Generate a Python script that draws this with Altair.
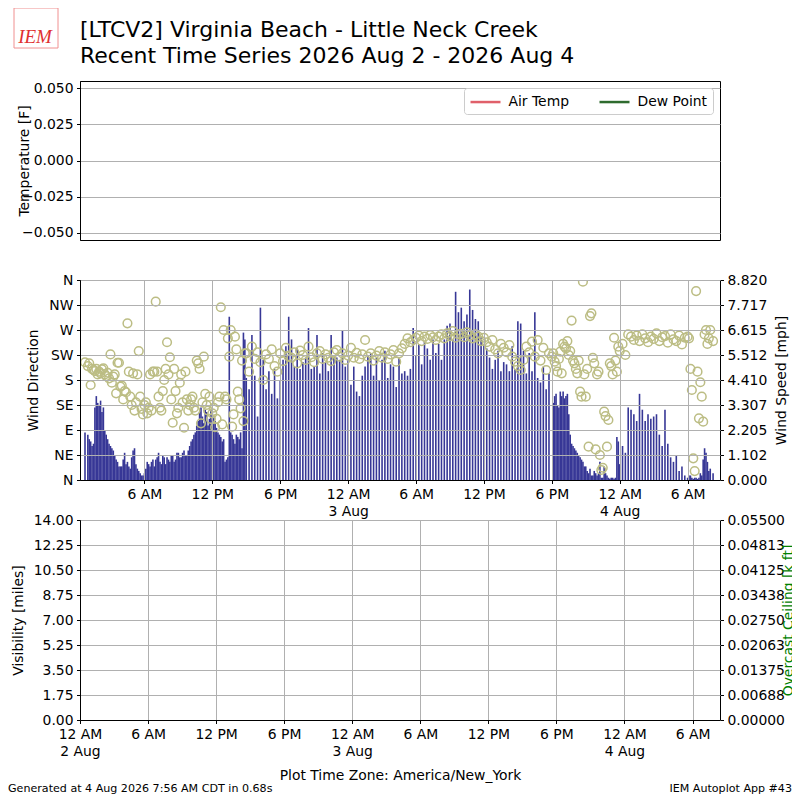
import json
import numpy as np
import pandas as pd
import altair as alt

# ---------------- text ----------------
title_lines = ["[LTCV2] Virginia Beach - Little Neck Creek",
               "Recent Time Series 2026 Aug 2 - 2026 Aug 4"]
footer_left = "Generated at 4 Aug 2026 7:56 AM CDT in 0.68s"
footer_right = "IEM Autoplot App #43"
x_title = "Plot Time Zone: America/New_York"
logo_text = "IEM"

# ---------------- data ----------------
obs_start = "2026-08-02 00:45"   # first observation, 15 minute steps
day_start = "2026-08-02 00:00"

speed_mph = [
    2.1,                      # 00:45 2 Aug
    2.0, 1.7, 1.6, 3.7,       # 01
    3.3, 3.0, 2.2, 1.8,       # 02
    1.5, 1.3, 0.9, 0.6,       # 03
    0.6, 1.2, 0.8, 0.5,       # 04
    1.3, 0.7, 0.4, 0.2,       # 05
    0.3, 0.8, 0.6, 0.9,       # 06
    0.9, 1.2, 0.7, 1.0,       # 07
    1.0, 0.8, 1.1, 0.9,       # 08
    1.2, 1.0, 1.3, 1.1,       # 09
    1.5, 1.8, 2.1, 2.6,       # 10
    3.2, 2.5, 3.0, 2.7,       # 11
    3.0, 2.6, 2.1, 1.9,       # 12
    1.8, 0.9, 7.2, 2.0,       # 13
    1.6, 1.9, 2.1, 6.5,       # 14
    4.5, 4.0, 6.4, 4.6,       # 15
    2.8, 7.6, 5.3, 4.0,       # 16
    4.8, 3.8, 4.9, 3.6,       # 17
    4.4, 5.3, 5.9, 7.2,       # 18
    6.2, 5.0, 5.8, 4.9,       # 19
    5.2, 5.4, 6.7, 4.9,       # 20
    5.0, 6.4, 4.7, 5.6,       # 21
    5.2, 4.8, 6.4, 5.5,       # 22
    5.4, 5.3, 6.6, 5.0,       # 23
    5.3, 4.2, 5.0, 3.9,       # 00 3 Aug
    3.7, 4.6, 5.0, 5.5,       # 01
    5.6, 4.6, 5.4, 4.4,       # 02
    5.3, 5.7, 4.5, 5.1,       # 03
    5.0, 4.1, 5.4, 4.7,       # 04
    4.8, 4.6, 4.9, 6.7,       # 05
    5.5, 6.0, 5.1, 6.1,       # 06
    5.8, 5.3, 6.2, 5.6,       # 07
    6.0, 5.3, 6.2, 6.8,       # 08
    6.9, 6.2, 8.3, 7.4,       # 09
    7.6, 7.0, 7.3, 8.4,       # 10
    7.5, 7.1, 7.0, 6.3,       # 11
    6.0, 5.8, 5.4, 4.9,       # 12
    5.3, 5.7, 4.8, 5.2,       # 13
    5.1, 4.8, 5.9, 4.9,       # 14
    7.0, 6.9, 5.7, 4.7,       # 15
    5.6, 4.8, 7.4, 4.5,       # 16
    4.3, 5.0, 4.0, 4.7,       # 17
    None, 3.7, 3.3, 3.9,      # 18
    3.9, 3.7, 2.9, 1.6,       # 19
    1.4, 1.2, 1.0, 0.8,       # 20
    0.6, 0.3, 0.2, 0.4,       # 21
    0.2, 0.8, 0.1, 0.3,       # 22
    0.1, 0.1, 0.05, 1.9,      # 23
    0.7, 1.5, 1.2, 3.2,       # 00 4 Aug
    3.1, 2.9, 2.6, 3.8,       # 01
    3.1, 2.6, 2.9, 2.7,       # 02
    2.8, 2.9, 2.0, 1.5,       # 03
    3.1, 1.6, 1.0, 0.8,       # 04
    1.1, 0.4, 0.6, 0.2,       # 05
    0.1, 0.2, 0.05, 0.1,      # 06
    0.1, 0.2, 1.4, 0.8,       # 07
    0.5, 0.3,                 # 08
]

drct_deg = [
    212,                      # 00:45 2 Aug
    205, 171, 198, 200,       # 01
    195, 199, 190, 193,       # 02
    226, 186, 156, 211,       # 03
    170, 160, 282, 150,       # 04
    192, 140, 232, 128,       # 05
    135, 120, 190, 195,       # 06
    321, 150, 125, 180,       # 07
    248, 221, 103, 160,       # 08
    130, 190, 94, 145,        # 09
    135, 150, 125, 210,       # 10
    102, 222, 135, 150,       # 11
    120, 95, 140, 311,        # 12
    270, 145, 222, 96,        # 13
    258, 159, 129, 106,       # 14
    228, 195, 240, 218,       # 15
    230, 212, 180, 226,       # 16
    218, 235, 205, 195,       # 17
    228, 214, 238, 222,       # 18
    220, 230, 210, 233,       # 19
    225, 216, 240, 221,       # 20
    212, 228, 232, 218,       # 21
    226, 220, 214, 230,       # 22
    234, 222, 228, 216,       # 23
    224, 238, 220, 229,       # 00 3 Aug
    218, 226, 252, 222,       # 01
    228, 215, 224, 232,       # 02
    220, 230, 218, 226,       # 03
    234, 213, 228, 237,       # 04
    245, 255, 248, 252,       # 05
    256, 260, 250, 258,       # 06
    254, 261, 257, 252,       # 07
    258, 262, 255, 264,       # 08
    259, 268, 256, 262,       # 09
    263, 257, 266, 260,       # 10
    255, 262, 258, 250,       # 11
    256, 248, 240, 252,       # 12
    235, 228, 245, 238,       # 13
    230, 243, 222, 213,       # 14
    205, 198, 216, 240,       # 15
    230, 249, 222, 252,       # 16
    215, 238, 198, 228,       # 17
    222, 213, 195, 231,       # 18
    245, 237, 225, 287,       # 19
    210, 192, 159, 357,       # 20
    150, 60, 300, 210,        # 21
    190, 45, 22, 115,         # 22
    108, 205, 256, 195,       # 23
    232, 245, 225, 262,       # 00 4 Aug
    258, 252, 260, 250,       # 01
    262, 255, 248, 258,       # 02
    254, 264, 250, 257,       # 03
    259, 247, 262, 253,       # 04
    250, 260, 244, 256,       # 05
    258, 200, 39, 340,        # 06
    111, 150, 262, 245,       # 07
    270, 250,                 # 08
]

# extra reports in the gusty / variable hours, at :07, :22, :37 and :52
extra_hours = [1, 2, 3, 4, 5, 6, 7, 8, 9, 10, 11, 12, 13, 14,   # 2 Aug
               42, 43, 44, 45, 46, 47,                          # 3 Aug 18-23
               54, 55]                                          # 4 Aug 06-07
extra_speed_mph = [
    1.8, 1.5, 3.2, 3.4,   3.5, 3.2, 2.0, 1.6,   1.4, 1.1, 0.8, 0.6,
    0.9, 0.7, 0.6, 1.0,   1.4, 0.5, 0.3, 0.2,   0.5, 0.7, 0.8, 0.6,
    1.0, 0.8, 1.1, 0.7,   0.9, 1.1, 0.8, 1.2,   1.0, 1.2, 1.1, 1.3,
    1.7, 2.0, 2.4, 3.0,   2.8, 3.1, 2.4, 3.1,   2.8, 2.3, 2.0, 1.7,
    0.8, 1.0, 2.1, 1.8,   2.0, 1.8, 1.4, 6.2,
    3.4, 3.8, 3.2, 3.7,   3.6, 3.8, 2.0, 1.5,   1.3, 1.1, 0.9, 0.6,
    0.4, 0.5, 0.2, 0.3,   0.3, 0.1, 0.6, 0.2,   0.05, 0.1, 0.1, 1.7,
    0.2, 0.1, 0.1, 0.05,  0.3, 0.9, 1.2, 0.4,
]
extra_drct_deg = [
    210, 200, 196, 190,   192, 201, 187, 183,   175, 190, 211, 168,
    145, 158, 195, 135,   125, 190, 150, 118,   140, 130, 125, 195,
    195, 130, 160, 200,   190, 145, 200, 120,   175, 140, 195, 125,
    145, 130, 215, 200,   140, 155, 125, 110,   130, 110, 150, 100,
    150, 255, 270, 118,   235, 145, 215, 228,
    228, 205, 218, 192,   240, 250, 232, 215,   200, 215, 150, 190,
    200, 295, 220, 55,    195, 18, 123, 60,     210, 190, 215, 240,
    255, 162, 16, 195,    176, 105, 270, 255,
]

temp_series = ["Air Temp", "Dew Point"]
temp_colors = ["#e0606a", "#2e6b2e"]

x_tick_hours = [0, 6, 12, 18, 24, 30, 36, 42, 48, 54]
x_tick_labels = [["12 AM", "2 Aug"], "6 AM", "12 PM", "6 PM",
                 ["12 AM", "3 Aug"], "6 AM", "12 PM", "6 PM",
                 ["12 AM", "4 Aug"], "6 AM"]
dir_labels = ["N", "NE", "E", "SE", "S", "SW", "W", "NW", "N"]
speed_labels = ["0.000", "1.102", "2.205", "3.307", "4.410",
                "5.512", "6.615", "7.717", "8.820"]
temp_labels = ["\u22120.050", "\u22120.025", "0.000", "0.025", "0.050"]
vis_labels = ["0.00", "1.75", "3.50", "5.25", "7.00",
              "8.75", "10.50", "12.25", "14.00"]
ceil_labels = ["0.00000", "0.00688", "0.01375", "0.02063", "0.02750",
               "0.03438", "0.04125", "0.04813", "0.05500"]

# ---------------- frames ----------------
n = min(len(speed_mph), len(drct_deg))
times = pd.date_range(obs_start, periods=n, freq="15min")
hours = np.asarray((times - pd.Timestamp(day_start)) / pd.Timedelta(hours=1), dtype=float)
main_df = pd.DataFrame({"hour": hours,
                        "speed": pd.Series(speed_mph[:n], dtype="float"),
                        "drct": pd.Series(drct_deg[:n], dtype="float")})
extra_times = [h + 0.125 + 0.25 * k for h in extra_hours for k in range(4)]
m = min(len(extra_times), len(extra_speed_mph), len(extra_drct_deg))
extra_df = pd.DataFrame({"hour": extra_times[:m],
                         "speed": pd.Series(extra_speed_mph[:m], dtype="float"),
                         "drct": pd.Series(extra_drct_deg[:m], dtype="float")})
wind_df = pd.concat([main_df, extra_df]).sort_values("hour").reset_index(drop=True)

temp_df = pd.DataFrame({"hour": [0.0, 0.0], "temp": [np.nan, np.nan], "series": temp_series})
vis_df = pd.DataFrame({"hour": hours, "vis": np.nan, "ceil": np.nan})
one = pd.DataFrame({"a": [0]})

FONT = "DejaVu Sans"
FS = 13.9
BAR = "#373796"
PT = "#bcbd84"
W = 640

end_hour = 56.42
mid_domain = [0.75, end_hour]
full_domain = [0.0, end_hour]


def expr(labels, step, offset=0.0):
    return json.dumps(labels, ensure_ascii=False) + f"[round((datum.value - ({offset}))/{step})]"


def text_layer(s, **kw):
    return alt.Chart(one).transform_calculate(t=json.dumps(s, ensure_ascii=False)).mark_text(**kw)


x_axis = dict(values=x_tick_hours, labelExpr=expr(x_tick_labels, 6), grid=True, zindex=1,
              labelLineHeight=17, labelAngle=0, labelOverlap=False, labelFlush=False)

# ---------------- top panel ----------------
temp_layer = alt.Chart(temp_df).mark_line(strokeWidth=2.5).encode(
    x=alt.X("hour:Q", scale=alt.Scale(domain=full_domain, nice=False, zero=False), axis=None),
    y=alt.Y("temp:Q", scale=alt.Scale(domain=[-0.055, 0.055], nice=False, zero=False),
            axis=alt.Axis(values=[-0.05, -0.025, 0.0, 0.025, 0.05],
                          labelExpr=expr(temp_labels, 0.025, -0.05),
                          title="Temperature [F]", titleX=-56, titleY=79.5,
                          titleBaseline="middle", grid=True, zindex=1)),
    color=alt.Color("series:N", scale=alt.Scale(domain=temp_series, range=temp_colors),
                    legend=alt.Legend(title=None, orient="top-right", direction="horizontal",
                                      offset=7, symbolType="M-2,0H2", symbolSize=225,
                                      symbolOffset=7.5, symbolStrokeWidth=2.5,
                                      labelFontSize=FS, labelFont=FONT, labelColor="black",
                                      labelOffset=14, columnPadding=24, padding=5,
                                      strokeColor="#cccccc", fillColor="white",
                                      cornerRadius=3)),
)
logo_box = alt.Chart(one).mark_rect(fillOpacity=0, stroke="#f09090", strokeWidth=1).encode(
    x=alt.value(-66), x2=alt.value(-22), y=alt.value(-73), y2=alt.value(-33))
logo = text_layer(logo_text, font="Liberation Serif", fontStyle="italic", fontSize=19,
                  color="#e03030", align="center", baseline="middle").encode(
    x=alt.value(-45), y=alt.value(-44), text="t:N")
title1 = text_layer(title_lines[0], font=FONT, fontSize=22, color="black", align="left",
                    baseline="alphabetic").encode(x=alt.value(0), y=alt.value(-44), text="t:N")
title2 = text_layer(title_lines[1], font=FONT, fontSize=22, color="black", align="left",
                    baseline="alphabetic").encode(x=alt.value(0), y=alt.value(-18), text="t:N")

top = alt.layer(temp_layer, logo_box, logo, title1, title2).properties(width=W, height=159)

# ---------------- middle panel ----------------
x_mid = alt.X("hour:Q", scale=alt.Scale(domain=mid_domain, nice=False, zero=False),
              axis=alt.Axis(title=None, **x_axis))
bars = alt.Chart(wind_df).mark_bar(size=1.6, color=BAR, clip=True).encode(
    x=x_mid,
    y=alt.Y("speed:Q", scale=alt.Scale(domain=[0, 8.82], nice=False),
            axis=alt.Axis(orient="right", values=[i * 8.82 / 8 for i in range(9)],
                          labelExpr=expr(speed_labels, 1.1025), title="Wind Speed [mph]",
                          titleX=61, titleY=100, titleAngle=270, titleBaseline="middle",
                          grid=False)))
pts = alt.Chart(wind_df).mark_point(shape="circle", filled=False, size=75, strokeWidth=1.5,
                                    color=PT, opacity=1, clip=True).encode(
    x=x_mid,
    y=alt.Y("drct:Q", scale=alt.Scale(domain=[0, 360], nice=False),
            axis=alt.Axis(orient="left", values=list(range(0, 361, 45)),
                          labelExpr=expr(dir_labels, 45), title="Wind Direction",
                          titleX=-47, titleY=100, titleBaseline="middle", grid=True, zindex=1)))
middle = alt.layer(bars, pts).resolve_scale(y="independent").properties(width=W, height=200)

# ---------------- bottom panel ----------------
x_bot = alt.X("hour:Q", scale=alt.Scale(domain=full_domain, nice=False, zero=False),
              axis=alt.Axis(title=x_title, titleY=55, titleBaseline="middle", **x_axis))
vis_line = alt.Chart(vis_df).mark_line(color="black").encode(
    x=x_bot,
    y=alt.Y("vis:Q", scale=alt.Scale(domain=[0, 14], nice=False),
            axis=alt.Axis(orient="left", values=[i * 1.75 for i in range(9)],
                          labelExpr=expr(vis_labels, 1.75), title="Visibility [miles]",
                          titleX=-62, titleY=100, titleBaseline="middle", grid=True, zindex=1)))
ceil_line = alt.Chart(vis_df).mark_line(color="green").encode(
    x=x_bot,
    y=alt.Y("ceil:Q", scale=alt.Scale(domain=[0, 0.055], nice=False),
            axis=alt.Axis(orient="right", values=[i * 0.055 / 8 for i in range(9)],
                          labelExpr=expr(ceil_labels, 0.006875), title="Overcast Ceiling [k ft]",
                          titleColor="#008000", titleX=68, titleY=100, titleAngle=270,
                          titleBaseline="middle", grid=False)))
foot_l = text_layer(footer_left, font=FONT, fontSize=11.1, align="left", baseline="alphabetic",
                    color="black").encode(x=alt.value(-72), y=alt.value(272), text="t:N")
foot_r = text_layer(footer_right, font=FONT, fontSize=11.1, align="right", baseline="alphabetic",
                    color="black").encode(x=alt.value(712), y=alt.value(272), text="t:N")
bottom = alt.layer(vis_line, ceil_line, foot_l, foot_r).resolve_scale(y="independent").properties(
    width=W, height=200)

chart = alt.vconcat(
    top, middle, bottom, spacing=40, bounds="flush",
    autosize=alt.AutoSizeParams(type="none"),
    padding={"left": 72, "top": 73, "right": 72, "bottom": 716},
).configure(
    font=FONT
).configure_view(stroke="black", strokeWidth=1).configure_axis(
    labelFont=FONT, titleFont=FONT, labelFontSize=FS, titleFontSize=FS, titleFontWeight="normal",
    labelColor="black", titleColor="black", tickColor="black", domainColor="black",
    tickSize=3.5, labelPadding=3.5, gridColor="#b0b0b0", gridWidth=1, tickWidth=1,
    domainWidth=1, labelOverlap=False, labelBound=False
)

chart.save("out.html", embed_options={"renderer": "svg", "actions": False})
